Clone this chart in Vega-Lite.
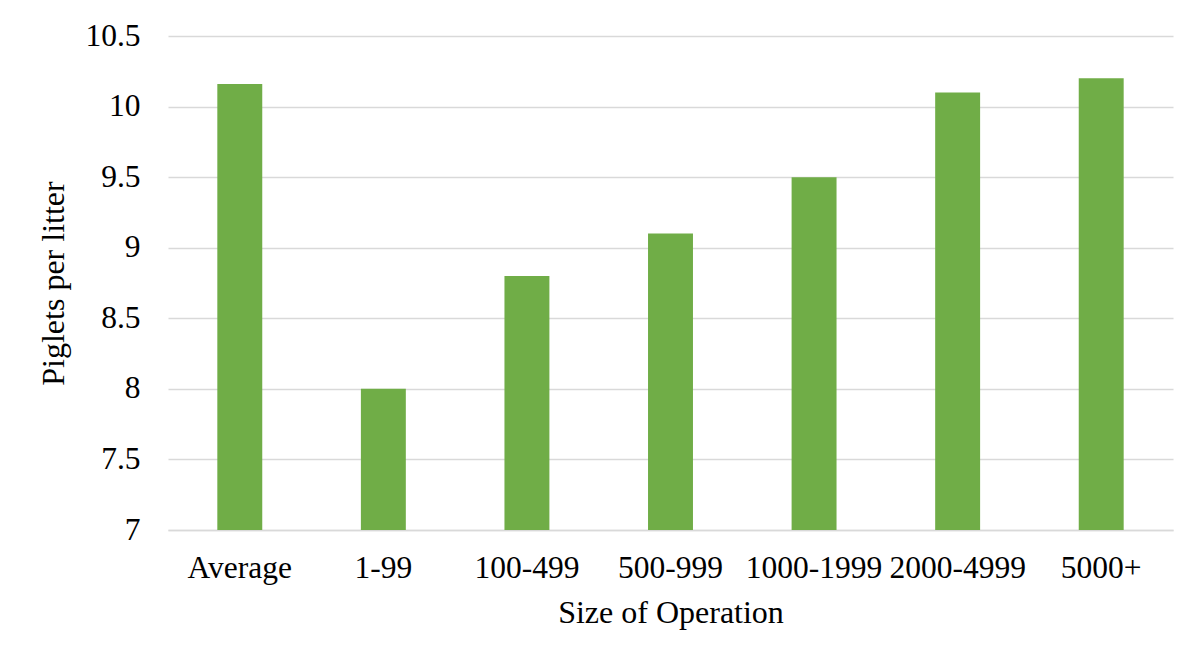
{
  "$schema": "https://vega.github.io/schema/vega-lite/v6.json",
  "width": 1005,
  "height": 494,
  "autosize": "none",
  "padding": {"left": 168, "top": 36, "right": 21, "bottom": 130},
  "background": "white",
  "config": {
    "view": {"stroke": null},
    "font": "Liberation Serif"
  },
  "data": {
    "values": [
      {"size": "Average", "piglets": 10.16},
      {"size": "1-99", "piglets": 8.0},
      {"size": "100-499", "piglets": 8.8},
      {"size": "500-999", "piglets": 9.1},
      {"size": "1000-1999", "piglets": 9.5},
      {"size": "2000-4999", "piglets": 10.1},
      {"size": "5000+", "piglets": 10.2}
    ]
  },
  "mark": {"type": "bar", "color": "#70AD47", "clip": true},
  "encoding": {
    "x": {
      "field": "size",
      "type": "nominal",
      "sort": null,
      "title": "Size of Operation",
      "scale": {"paddingInner": 0.687, "paddingOuter": 0.3435},
      "axis": {
        "labelAngle": 0,
        "labelFont": "Liberation Serif",
        "labelFontSize": 31.5,
        "labelColor": "black",
        "labelPadding": 22,
        "ticks": false,
        "domainColor": "#d9d9d9",
        "domainWidth": 1.5,
        "titleFont": "Liberation Serif",
        "titleFontSize": 32,
        "titleFontWeight": "normal",
        "titleColor": "black",
        "titlePadding": 14
      }
    },
    "y": {
      "field": "piglets",
      "type": "quantitative",
      "title": "Piglets per litter",
      "scale": {"domain": [7, 10.5], "zero": false, "nice": false},
      "axis": {
        "values": [7, 7.5, 8, 8.5, 9, 9.5, 10, 10.5],
        "format": "~g",
        "labelFont": "Liberation Serif",
        "labelFontSize": 31.5,
        "labelColor": "black",
        "labelPadding": 28,
        "ticks": false,
        "domain": false,
        "gridColor": "#d9d9d9",
        "gridWidth": 1.5,
        "titleFont": "Liberation Serif",
        "titleFontSize": 32,
        "titleFontWeight": "normal",
        "titleColor": "black",
        "titlePadding": 14
      }
    }
  }
}
